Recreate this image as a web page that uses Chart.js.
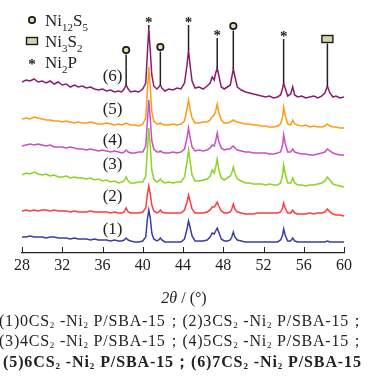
<!DOCTYPE html>
<html><head><meta charset="utf-8">
<script src="https://cdn.jsdelivr.net/npm/chart.js@4/dist/chart.umd.min.js"></script>
<style>html,body{margin:0;padding:0;background:#fff;overflow:hidden}canvas{display:block}</style>
</head><body><canvas id="c" width="371" height="382"></canvas>
<script>
// ---- data (2θ in degrees, intensity in arbitrary stacked units) ----
const twoTheta = [
 28.0,28.4,28.8,29.2,29.6,30.0,30.4,30.8,31.2,31.6,
 32.0,32.4,32.8,33.2,33.6,34.0,34.4,34.8,35.2,35.6,
 36.0,36.4,36.8,37.2,37.6,37.9,38.15,38.35,38.55,38.8,
 39.2,39.6,40.0,40.3,40.45,40.6,40.75,40.9,41.1,41.4,
 41.6,41.75,41.9,42.2,42.6,43.0,43.4,43.8,44.15,44.4,
 44.55,44.7,44.9,45.2,45.6,46.0,46.4,46.7,46.9,47.1,
 47.25,47.4,47.55,47.8,48.1,48.4,48.7,48.85,49.0,49.15,
 49.4,49.8,50.2,50.6,51.0,51.4,51.8,52.2,52.6,53.0,
 53.4,53.7,53.9,54.0,54.15,54.4,54.7,54.9,55.1,55.4,
 55.8,56.2,56.6,57.0,57.4,57.8,58.1,58.35,58.6,58.9,
 59.2,59.6,60.0];
const series1 = [
 16,16,17,16,16,16,15,16,16,15, 15,15,14,15,14,14,14,13,14,13,
 13,13,12,13,12,12,13,15,13,12, 11,11,12,16,33,43,35,20,14,12,
 13,15,13,11,11,11,11,11,14,24, 32,26,17,12,12,12,13,16,20,19,
 22,25,21,14,12,12,13,16,21,16, 13,12,11,11,11,11,11,11,11,11,
 11,13,18,24,18,12,12,15,12,11, 11,11,11,11,11,11,11,12,11,11,
 11,11,11];
const series2 = [
 42,43,42,43,42,43,43,42,43,42, 42,42,41,42,41,41,41,42,41,41,
 41,41,40,41,40,40,41,45,41,40, 40,40,41,45,58,67,59,48,42,40,
 41,43,41,40,40,40,40,40,43,51, 58,52,44,40,40,40,41,43,46,46,
 48,51,47,42,40,40,41,44,49,44, 41,40,39,39,39,40,40,40,40,40,
 40,41,45,50,45,40,40,43,40,39, 39,39,40,39,40,40,41,44,41,39,
 38,38,37];
const series3 = [
 78,80,79,81,79,78,79,77,78,76, 76,77,75,76,75,75,74,75,73,74,
 72,73,71,72,70,71,72,76,72,70, 70,71,71,77,102,125,106,83,74,71,
 72,74,72,70,71,70,71,71,76,91, 103,92,78,72,72,73,74,77,83,80,
 86,94,84,75,73,75,77,80,86,80, 74,72,70,70,69,69,69,68,69,68,
 68,70,78,88,80,70,70,75,70,68, 68,67,68,68,69,70,72,76,73,69,
 68,67,66];
const series4 = [
 107,108,109,108,109,108,107,108,106,106, 106,105,106,105,104,104,103,104,103,102,
 103,102,101,102,101,100,101,103,101,100, 100,101,101,107,130,153,134,112,104,101,
 101,102,101,100,100,101,100,101,104,115, 125,116,106,102,103,102,103,105,108,107,
 112,120,112,105,103,104,104,106,107,105, 103,102,101,101,100,100,100,100,99,99,
 100,101,108,118,110,101,101,104,101,100, 99,99,98,98,99,100,101,104,102,100,
 99,98,98];
const series5 = [
 134,135,134,136,135,134,133,133,132,132, 131,132,131,130,131,130,130,131,130,129,
 129,130,129,128,129,128,129,130,129,128, 128,127,129,135,160,186,165,141,132,129,
 129,130,129,128,128,129,128,129,132,144, 153,144,135,130,130,131,131,133,136,138,
 142,149,141,133,130,130,131,132,133,132, 131,130,129,129,128,128,127,127,126,126,
 127,129,136,146,138,129,128,133,129,128, 127,128,126,127,126,126,127,129,127,126,
 126,125,125];
const series6 = [
 171,173,172,174,171,172,170,172,169,171, 168,169,166,168,166,167,165,166,164,163,
 164,162,163,161,162,161,164,168,164,161, 162,161,164,170,198,225,202,178,167,164,
 166,168,165,162,164,163,165,164,170,188, 203,188,172,165,166,164,167,170,176,173,
 180,185,178,166,164,166,168,176,184,177, 166,163,161,160,159,158,157,156,157,155,
 156,158,165,170,165,157,159,166,158,156, 157,155,156,157,155,157,160,167,160,156,
 157,155,156];
const seriesNames = ['(1)','(2)','(3)','(4)','(5)','(6)'];
const seriesColors = ['#3C3CA8','#FF3B3B','#8CD421','#C84FC8','#FF9B1A','#8B1C6F'];
const seriesLabelTheta = 37.0;
const seriesLabelY = [23, 56, 88, 112, 143, 176];
const xTickValues = [28,32,36,40,44,48,52,56,60];
// phase markers
const markerTheta = [38.35, 40.6, 41.75, 44.55, 47.4, 49.0, 54.0, 58.35];
const markerPhase = ['Ni12S5','Ni2P','Ni12S5','Ni2P','Ni2P','Ni12S5','Ni2P','Ni3S2'];
const markerY     = [203, 233, 206, 233, 220, 227, 219, 214];
const legendPhases = ['Ni12S5','Ni3S2','Ni2P'];

const allSeries = [series1, series2, series3, series4, series5, series6];
const SERIF = '"Liberation Serif","Times New Roman",serif';

function drawRich(ctx, segs, x0, baseline, o) {
  const mf = `${o.style||'normal'} ${o.weight||'normal'} ${o.size}px ${SERIF}`;
  const sf = `normal ${o.weight||'normal'} ${o.subSize}px ${SERIF}`;
  const chars = [];
  segs.forEach(([t, sub]) => { for (const ch of t) chars.push([ch, sub]); });
  const widths = chars.map(([ch, sub]) => { ctx.font = sub ? sf : mf; return ctx.measureText(ch).width; });
  const total = widths.reduce((a, b) => a + b, 0);
  const extra = o.targetWidth ? (o.targetWidth - total) / Math.max(1, chars.length - 1) : 0;
  let x = x0;
  ctx.textAlign = 'left'; ctx.textBaseline = 'alphabetic';
  chars.forEach(([ch, sub], i) => {
    ctx.font = sub ? sf : mf;
    ctx.fillText(ch, x, baseline + (sub ? o.subDy : 0));
    x += widths[i] + extra;
  });
  return x;
}
function phaseSegs(p) {
  if (p === 'Ni12S5') return [['Ni',0],['12',1],['S',0],['5',1]];
  if (p === 'Ni3S2') return [['Ni',0],['3',1],['S',0],['2',1]];
  return [['Ni',0],['2',1],['P',0]];
}
function drawSymbol(ctx, phase, cx, cy) {
  ctx.save();
  if (phase === 'Ni12S5') {
    ctx.beginPath(); ctx.arc(cx, cy, 3.2, 0, Math.PI * 2);
    ctx.fillStyle = '#e4e0b6'; ctx.fill();
    ctx.lineWidth = 1.7; ctx.strokeStyle = '#1a1a1a'; ctx.stroke();
  } else if (phase === 'Ni3S2') {
    ctx.fillStyle = '#d6d3b0'; ctx.fillRect(cx - 5.5, cy - 3.5, 11, 7);
    ctx.lineWidth = 1.4; ctx.strokeStyle = '#1a1a1a'; ctx.strokeRect(cx - 5.5, cy - 3.5, 11, 7);
  } else {
    ctx.font = `bold 15px ${SERIF}`; ctx.fillStyle = '#1a1a1a';
    ctx.textAlign = 'center'; ctx.textBaseline = 'alphabetic';
    const m = ctx.measureText('*');
    ctx.fillText('*', cx, cy + (m.actualBoundingBoxAscent - m.actualBoundingBoxDescent) / 2);
  }
  ctx.restore();
}

const overlay = {
  id: 'overlay',
  afterDraw(chart) {
    const ctx = chart.ctx, xs = chart.scales.x, ys = chart.scales.y, area = chart.chartArea;
    ctx.save();
    // inward tick marks
    ctx.strokeStyle = '#222'; ctx.lineWidth = 1;
    xs.ticks.forEach(t => {
      const px = Math.round(xs.getPixelForValue(t.value)) + 0.5;
      ctx.beginPath(); ctx.moveTo(px, area.bottom); ctx.lineTo(px, area.bottom - 6); ctx.stroke();
    });
    // phase marker lines and symbols
    markerTheta.forEach((th, i) => {
      const px = xs.getPixelForValue(th);
      const py = ys.getPixelForValue(markerY[i]);
      const idx = twoTheta.indexOf(th);
      const peakPy = ys.getPixelForValue(series6[idx]);
      const gap = markerPhase[i] === 'Ni2P' ? 5 : 4.5;
      if (peakPy - (py + gap) > 1) {
        ctx.strokeStyle = '#222'; ctx.lineWidth = 1.5;
        ctx.beginPath(); ctx.moveTo(px, py + gap); ctx.lineTo(px, peakPy); ctx.stroke();
      }
      drawSymbol(ctx, markerPhase[i], px, py);
    });
    // series labels
    ctx.fillStyle = '#222'; ctx.font = `17px ${SERIF}`;
    ctx.textAlign = 'center'; ctx.textBaseline = 'middle';
    seriesNames.forEach((n, i) => {
      ctx.fillText(n, xs.getPixelForValue(seriesLabelTheta), ys.getPixelForValue(seriesLabelY[i]));
    });
    // legend
    const legY = [26, 47, 68];
    const legSym = [20, 41, 62];
    legendPhases.forEach((p, i) => {
      drawSymbol(ctx, p, 32, legSym[i]);
      ctx.fillStyle = '#222';
      drawRich(ctx, phaseSegs(p), 45, legY[i], {size: 17, subSize: 11, subDy: 5});
    });
    // axis title
    ctx.fillStyle = '#222';
    ctx.font = `italic 16px ${SERIF}`; const w1 = ctx.measureText('2θ').width;
    ctx.font = `16px ${SERIF}`; const w2 = ctx.measureText(' / (°)').width;
    let tx = 184 - (w1 + w2) / 2;
    ctx.textAlign = 'left'; ctx.textBaseline = 'alphabetic';
    ctx.font = `italic 16px ${SERIF}`; ctx.fillText('2θ', tx, 303);
    ctx.font = `16px ${SERIF}`; ctx.fillText(' / (°)', tx + w1, 303);
    // caption
    const cap1 = [['(1)0CS',0],['2',1],[' -Ni',0],['2',1],[' P/SBA-15；(2)3CS',0],['2',1],[' -Ni',0],['2',1],[' P/SBA-15；',0]];
    const cap2 = [['(3)4CS',0],['2',1],[' -Ni',0],['2',1],[' P/SBA-15；(4)5CS',0],['2',1],[' -Ni',0],['2',1],[' P/SBA-15；',0]];
    const cap3 = [['(5)6CS',0],['2',1],[' -Ni',0],['2',1],[' P/SBA-15；(6)7CS',0],['2',1],[' -Ni',0],['2',1],[' P/SBA-15',0]];
    drawRich(ctx, cap1, -1, 326, {size: 16, subSize: 9, subDy: 2, targetWidth: 366});
    drawRich(ctx, cap2, -1, 346, {size: 16, subSize: 9, subDy: 2, targetWidth: 366});
    drawRich(ctx, cap3, 3, 367, {size: 16, subSize: 9, subDy: 2, weight: 'bold', targetWidth: 358});
    ctx.restore();
  }
};

const datasets = allSeries.map((s, i) => ({
  label: seriesNames[i],
  data: twoTheta.map((x, j) => ({x, y: s[j]})),
  borderColor: seriesColors[i],
  borderWidth: 1.5,
  pointRadius: 0,
  tension: 0,
  fill: false
}));

new Chart(document.getElementById('c'), {
  type: 'line',
  data: {datasets},
  options: {
    responsive: false,
    animation: false,
    events: [],
    layout: {padding: {left: 22, right: 27, top: 10, bottom: 99}},
    plugins: {legend: {display: false}, tooltip: {enabled: false}},
    scales: {
      x: {
        type: 'linear', min: 28, max: 60,
        afterBuildTicks: s => { s.ticks = xTickValues.map(v => ({value: v})); },
        afterFit: s => { s.height = 30; },
        ticks: {font: {family: SERIF, size: 16}, color: '#222', padding: 3, maxRotation: 0, autoSkip: false},
        grid: {display: false, drawTicks: false},
        border: {display: true, color: '#222', width: 1.2}
      },
      y: {display: false, min: 0, max: 243}
    }
  },
  plugins: [overlay]
});
</script>
</body></html>
